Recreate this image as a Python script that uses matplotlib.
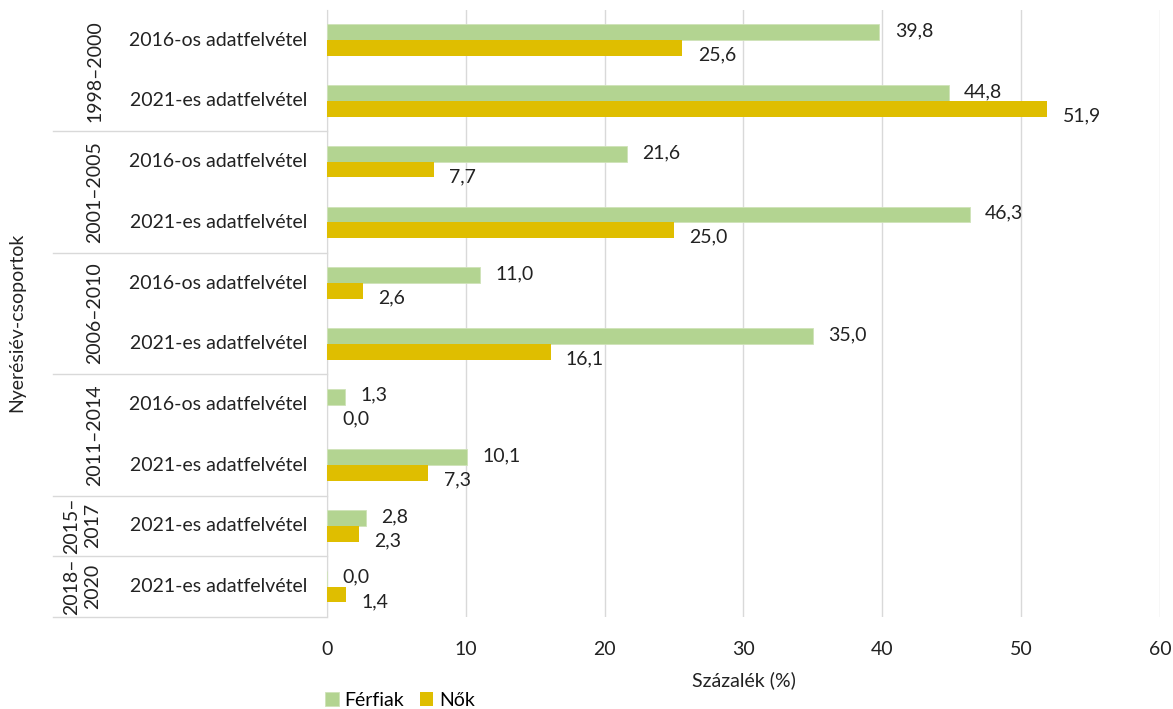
import matplotlib.pyplot as plt
import numpy as np

# nyerésiév-csoportok, felülről lefelé
groups = ["1998–2000", "2001–2005", "2006–2010", "2011–2014", "2015–\n2017", "2018–\n2020"]
group_sizes = [2, 2, 2, 2, 1, 1]
rows = ["2016-os adatfelvétel", "2021-es adatfelvétel",
        "2016-os adatfelvétel", "2021-es adatfelvétel",
        "2016-os adatfelvétel", "2021-es adatfelvétel",
        "2016-os adatfelvétel", "2021-es adatfelvétel",
        "2021-es adatfelvétel",
        "2021-es adatfelvétel"]
ferfiak = [39.8, 44.8, 21.6, 46.3, 11.0, 35.0, 1.3, 10.1, 2.8, 0.0]
nok = [25.6, 51.9, 7.7, 25.0, 2.6, 16.1, 0.0, 7.3, 2.3, 1.4]

GREEN = "#b3d491"
YELLOW = "#dfbe00"
TXT = "#222222"
FS = 14

plt.rcParams['font.family'] = ['Lato', 'DejaVu Sans']

fig = plt.figure(figsize=(11.73, 7.09), dpi=100)
ax = fig.add_axes([0.2788, 0.1298, 0.71, 0.8562])

n = len(rows)
y = np.arange(n)
h = 0.26
ax.barh(y - h / 2, ferfiak, height=h, color=GREEN, edgecolor="#cfe3b8", linewidth=0.6, label="Férfiak", zorder=3)
ax.barh(y + h / 2, nok, height=h, color=YELLOW, label="Nők", zorder=3)

for i in range(n):
    ax.annotate(f"{ferfiak[i]:.1f}".replace(".", ","), (ferfiak[i], y[i] - h / 2),
                xytext=(11, 1), textcoords="offset points", va="center", ha="left",
                fontsize=FS, color=TXT)
    ax.annotate(f"{nok[i]:.1f}".replace(".", ","), (nok[i], y[i] + h / 2),
                xytext=(11, -5), textcoords="offset points", va="center", ha="left",
                fontsize=FS, color=TXT)

ax.set_xlim(0, 60)
ax.set_ylim(n - 0.5, -0.5)
ax.set_xticks(range(0, 61, 10))
ax.tick_params(axis="x", length=0, labelsize=FS, pad=17, colors=TXT)
ax.set_yticks([])
ax.grid(axis="x", color="#d9d9d9", linewidth=1, zorder=0)
for s in ["top", "right", "bottom"]:
    ax.spines[s].set_visible(False)
ax.spines["left"].set_color("#d9d9d9")
ax.set_xlabel("Százalék (%)", fontsize=FS, labelpad=10, color=TXT)

# sorcímkék
trans = ax.get_yaxis_transform()
for i, r in enumerate(rows):
    ax.text(-0.024, y[i], r, transform=trans, ha="right", va="center", fontsize=FS, color=TXT)

# csoportcímkék és elválasztó vonalak
start = 0
left_x = (53 - 327) / (1160 - 327)
for g, size in zip(groups, group_sizes):
    mid = start + (size - 1) / 2
    gx = -0.294 if "\n" in g else -0.279
    ax.text(gx, mid, g, transform=trans, ha="center", va="center", rotation=90,
            fontsize=FS, color=TXT, linespacing=1.3)
    end = start + size - 0.5
    ax.plot([left_x, 0], [end, end], transform=trans, color="#d9d9d9", linewidth=1, clip_on=False)
    start += size

fig.text(0.014, 0.545, "Nyerésiév-csoportok", rotation=90, ha="center", va="center",
         fontsize=FS, color=TXT)

ax.legend(loc="center left", bbox_to_anchor=(-0.014, -0.137), ncol=2, frameon=False,
          fontsize=FS, handlelength=0.7, handleheight=0.7, columnspacing=0.8, handletextpad=0.3,
          borderpad=0)

fig.savefig("out.png", dpi=100)
